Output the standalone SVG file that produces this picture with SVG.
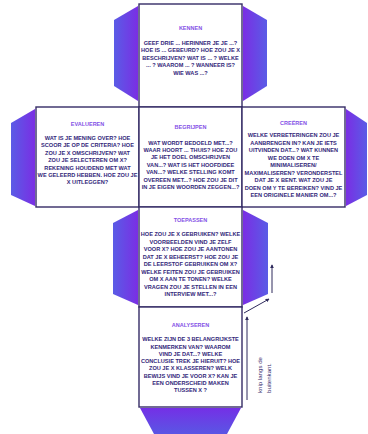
<svg xmlns="http://www.w3.org/2000/svg" width="368" height="434" viewBox="0 0 368 434">
<style>
.box{fill:#ffffff;stroke:#352c66;stroke-width:1.4}
.t{font-family:"Liberation Sans",Arial,sans-serif;font-weight:bold;font-size:5.5px;fill:#8450e6;text-anchor:middle}
.b{font-family:"Liberation Sans",Arial,sans-serif;font-weight:bold;font-size:5.6px;fill:#33277a;text-anchor:middle}
.note{font-family:"Liberation Sans",Arial,sans-serif;font-size:6.1px;fill:#3a3170}
.arr{stroke:#2e2a5c;stroke-width:1;fill:none;marker-end:url(#ah)}
</style>
<defs>
<linearGradient id="gL" x1="0" y1="0" x2="1" y2="0"><stop offset="0" stop-color="#5a5ce6"/><stop offset="1" stop-color="#7a2ee4"/></linearGradient>
<linearGradient id="gR" x1="0" y1="0" x2="1" y2="0"><stop offset="0" stop-color="#7a2ee4"/><stop offset="1" stop-color="#5a5ce6"/></linearGradient>
<linearGradient id="gB" x1="0" y1="0" x2="0" y2="1"><stop offset="0" stop-color="#7430e6"/><stop offset="1" stop-color="#5a56e4"/></linearGradient>
<marker id="ah" viewBox="0 0 6 6" refX="5" refY="3" markerWidth="4" markerHeight="4" orient="auto"><path d="M0,0 L6,3 L0,6 z" fill="#2e2a5c"/></marker>
</defs>
<rect width="368" height="434" fill="#ffffff"/>

<g id="kennen">
<polygon points="138,6 114,20 114,86 138,101" fill="url(#gL)"/>
<polygon points="243,6 267,20 267,86 243,101" fill="url(#gR)"/>
<rect class="box" x="139" y="4" width="103" height="103"/>
<text class="t" x="190.5" y="30">KENNEN</text>
<text class="b"><tspan x="190.5" y="44.6">GEEF DRIE ... HERINNER JE JE ...?</tspan><tspan x="190.5" y="52.2">HOE IS ... GEBEURD? HOE ZOU JE X</tspan><tspan x="190.5" y="59.8">BESCHRIJVEN? WAT IS ... ? WELKE</tspan><tspan x="190.5" y="67.4">... ? WAAROM ... ? WANNEER IS?</tspan><tspan x="190.5" y="75">WIE WAS ...?</tspan></text>
</g>

<g id="evalueren">
<polygon points="35,109 11,123 11,195 35,206" fill="url(#gL)"/>
<rect class="box" x="36" y="107" width="103" height="100"/>
<text class="t" x="87.5" y="126">EVALUEREN</text>
<text class="b"><tspan x="87.5" y="140">WAT IS JE MENING OVER? HOE</tspan><tspan x="87.5" y="147.4">SCOOR JE OP DE CRITERIA? HOE</tspan><tspan x="87.5" y="154.8">ZOU JE X OMSCHRIJVEN? WAT</tspan><tspan x="87.5" y="162.2">ZOU JE SELECTEREN OM X?</tspan><tspan x="87.5" y="169.6">REKENING HOUDEND MET WAT</tspan><tspan x="87.5" y="177">WE GELEERD HEBBEN. HOE ZOU JE</tspan><tspan x="87.5" y="184.4">X UITLEGGEN?</tspan></text>
</g>

<g id="begrijpen">
<rect class="box" x="139" y="107" width="103" height="100"/>
<text class="t" x="190.5" y="129">BEGRIJPEN</text>
<text class="b"><tspan x="190.5" y="144.5">WAT WORDT BEDOELD MET...?</tspan><tspan x="190.5" y="151.9">WAAR HOORT ... THUIS? HOE ZOU</tspan><tspan x="190.5" y="159.3">JE HET DOEL OMSCHRIJVEN</tspan><tspan x="190.5" y="166.7">VAN...? WAT IS HET HOOFDIDEE</tspan><tspan x="190.5" y="174.1">VAN...? WELKE STELLING KOMT</tspan><tspan x="190.5" y="181.5">OVEREEN MET...? HOE ZOU JE DIT</tspan><tspan x="190.5" y="188.9">IN JE EIGEN WOORDEN ZEGGEN...?</tspan></text>
</g>

<g id="creeren">
<polygon points="346,109 367,123 367,195 346,206" fill="url(#gR)"/>
<rect class="box" x="242" y="107" width="103" height="100"/>
<text class="t" x="293.5" y="124.7">CREËREN</text>
<text class="b"><tspan x="293.5" y="137">WELKE VERBETERINGEN ZOU JE</tspan><tspan x="293.5" y="144.5">AANBRENGEN IN? KAN JE IETS</tspan><tspan x="293.5" y="152">UITVINDEN DAT...? WAT KUNNEN</tspan><tspan x="293.5" y="159.5">WE DOEN OM X TE</tspan><tspan x="293.5" y="167">MINIMALISEREN/</tspan><tspan x="293.5" y="174.5">MAXIMALISEREN? VERONDERSTEL</tspan><tspan x="293.5" y="182">DAT JE X BENT. WAT ZOU JE</tspan><tspan x="293.5" y="189.5">DOEN OM Y TE BEREIKEN? VIND JE</tspan><tspan x="293.5" y="197">EEN ORIGINELE MANIER OM...?</tspan></text>
</g>

<g id="toepassen">
<polygon points="138,210 113,223 113,294 138,305" fill="url(#gL)"/>
<polygon points="243,210 268,223 268,294 243,305" fill="url(#gR)"/>
<rect class="box" x="139" y="207" width="103" height="100"/>
<text class="t" x="190.5" y="222">TOEPASSEN</text>
<text class="b"><tspan x="190.5" y="236.3">HOE ZOU JE X GEBRUIKEN? WELKE</tspan><tspan x="190.5" y="243.8">VOORBEELDEN VIND JE ZELF</tspan><tspan x="190.5" y="251.3">VOOR X? HOE ZOU JE AANTONEN</tspan><tspan x="190.5" y="258.8">DAT JE X BEHEERST? HOE ZOU JE</tspan><tspan x="190.5" y="266.3">DE LEERSTOF GEBRUIKEN OM X?</tspan><tspan x="190.5" y="273.8">WELKE FEITEN ZOU JE GEBRUIKEN</tspan><tspan x="190.5" y="281.3">OM X AAN TE TONEN? WELKE</tspan><tspan x="190.5" y="288.8">VRAGEN ZOU JE STELLEN IN EEN</tspan><tspan x="190.5" y="296.3">INTERVIEW MET...?</tspan></text>
</g>

<g id="analyseren">
<polygon points="140,408 241,408 227,434 154,434" fill="url(#gB)"/>
<rect class="box" x="139" y="307" width="103" height="100"/>
<text class="t" x="190.5" y="327">ANALYSEREN</text>
<text class="b"><tspan x="190.5" y="341.3">WELKE ZIJN DE 3 BELANGRIJKSTE</tspan><tspan x="190.5" y="348.5">KENMERKEN VAN? WAAROM</tspan><tspan x="190.5" y="355.8">VIND JE DAT...? WELKE</tspan><tspan x="190.5" y="363">CONCLUSIE TREK JE HIERUIT? HOE</tspan><tspan x="190.5" y="370.3">ZOU JE X KLASSEREN? WELK</tspan><tspan x="190.5" y="377.5">BEWIJS VIND JE VOOR X? KAN JE</tspan><tspan x="190.5" y="384.8">EEN ONDERSCHEID MAKEN</tspan><tspan x="190.5" y="392">TUSSEN X ?</tspan></text>
</g>

<g id="connectors">
<line class="arr" x1="247" y1="400" x2="247" y2="317"/>
<line class="arr" x1="244" y1="313" x2="269" y2="299"/>
<line class="arr" x1="272" y1="293" x2="272" y2="265"/>
</g>

<g id="label">
<text class="note" transform="translate(262,393) rotate(-90)">knip langs de</text>
<text class="note" transform="translate(271,393) rotate(-90)">buitenkant.</text>
</g>
</svg>
